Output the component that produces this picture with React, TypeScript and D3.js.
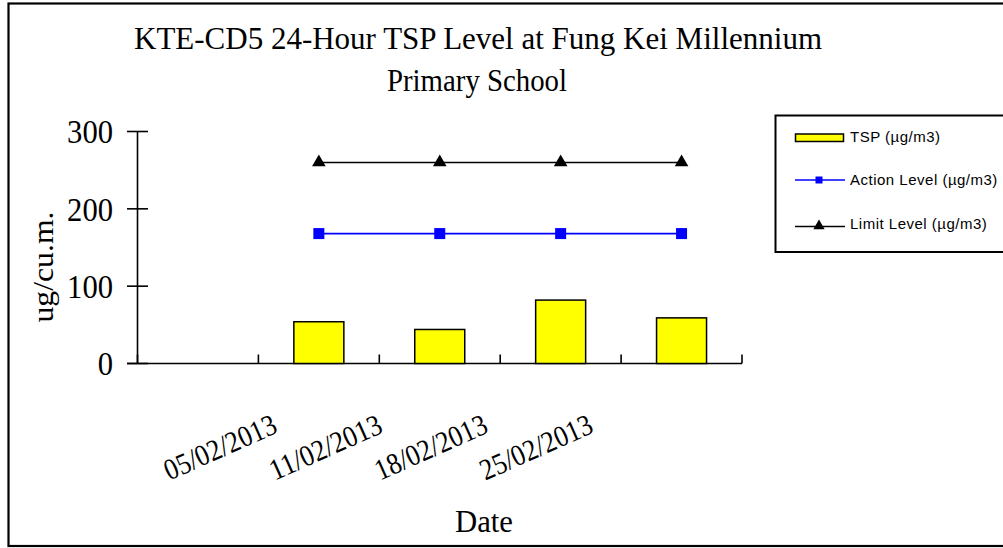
import React from "react";
import * as d3 from "d3";

// ---- data ----
const categories = ["", "05/02/2013", "11/02/2013", "18/02/2013", "25/02/2013"];
const dateLabels = ["05/02/2013", "11/02/2013", "18/02/2013", "25/02/2013"];
const tspValues: (number | null)[] = [null, 54, 44, 82, 59];
const actionLevel: (number | null)[] = [null, 168, 168, 168, 168];
const limitLevel: (number | null)[] = [null, 260, 260, 260, 260];
const yTicks = [0, 100, 200, 300];
const legendLabels = ["TSP (µg/m3)", "Action Level (µg/m3)", "Limit Level (µg/m3)"];
const titleLines = ["KTE-CD5 24-Hour TSP Level at Fung Kei Millennium", "Primary School"];

const W = 1003;
const H = 548;
const plot = { left: 137.5, right: 742, top: 131.5, bottom: 363.5 };
const serif = "'Liberation Serif', 'DejaVu Serif', serif";
const sans = "'Liberation Sans', Arial, sans-serif";

export default function App() {
  const x = d3.scaleBand<string>().domain(categories).range([plot.left, plot.right]);
  const y = d3.scaleLinear().domain([0, 300]).range([plot.bottom, plot.top]);
  const cx = (i: number) => (x(categories[i]) as number) + x.bandwidth() / 2;
  const labelX = d3.scalePoint<string>().domain(dateLabels).range([279, 595]);
  const barW = 50;

  const line = d3
    .line<number | null>()
    .defined((d) => d != null)
    .x((_, i) => cx(i))
    .y((d) => y(d as number));

  const tickXs = [...categories.map((c) => x(c) as number), plot.right];
  const tri = d3.symbol().type(d3.symbolTriangle).size(80);
  const triSmall = d3.symbol().type(d3.symbolTriangle).size(55);

  return (
    <svg width={W} height={H} style={{ position: "absolute", left: 0, top: 0, background: "#fff" }}>
      <rect x={0} y={0} width={W} height={H} fill="#fff" />
      <rect x={8.5} y={3.5} width={1010} height={542.5} fill="none" stroke="#000" strokeWidth={2.2} />

      {/* title */}
      <text x={478} y={49} textAnchor="middle" fontFamily={serif} fontSize={32} textLength={688} lengthAdjust="spacingAndGlyphs">
        {titleLines[0]}
      </text>
      <text x={477} y={91} textAnchor="middle" fontFamily={serif} fontSize={32} textLength={180} lengthAdjust="spacingAndGlyphs">
        {titleLines[1]}
      </text>

      {/* y axis */}
      <line x1={plot.left} x2={plot.left} y1={plot.top} y2={plot.bottom} stroke="#000" strokeWidth={1.6} />
      {yTicks.map((t) => (
        <g key={t}>
          <line x1={127} x2={148} y1={y(t)} y2={y(t)} stroke="#000" strokeWidth={1.6} />
          <text
            x={113}
            y={y(t)}
            dy="0.36em"
            textAnchor="end"
            fontFamily={serif}
            fontSize={33}
            textLength={String(t).length * 15.3}
            lengthAdjust="spacingAndGlyphs"
          >
            {t}
          </text>
        </g>
      ))}
      <text
        transform={`translate(53,267) rotate(-90)`}
        textAnchor="middle"
        fontFamily={serif}
        fontSize={30}
        textLength={111}
        lengthAdjust="spacingAndGlyphs"
      >
        ug/cu.m.
      </text>

      {/* x axis */}
      <line x1={127} x2={plot.right} y1={plot.bottom} y2={plot.bottom} stroke="#000" strokeWidth={1.6} />
      {tickXs.map((tx, i) => (
        <line key={i} x1={tx} x2={tx} y1={plot.bottom} y2={plot.bottom - 9} stroke="#000" strokeWidth={1.6} />
      ))}
      {dateLabels.map((d) => (
        <text
          key={d}
          transform={`translate(${labelX(d)},432) rotate(-24)`}
          textAnchor="end"
          fontFamily={serif}
          fontSize={30}
          textLength={120}
          lengthAdjust="spacingAndGlyphs"
        >
          {d}
        </text>
      ))}
      <text x={484} y={532} textAnchor="middle" fontFamily={serif} fontSize={31} textLength={58} lengthAdjust="spacingAndGlyphs">
        Date
      </text>

      {/* bars */}
      {tspValues.map((v, i) =>
        v == null ? null : (
          <rect
            key={i}
            x={cx(i) - barW / 2}
            y={y(v)}
            width={barW}
            height={y(0) - y(v)}
            fill="#FFFF00"
            stroke="#000"
            strokeWidth={1.5}
          />
        )
      )}

      {/* action level */}
      <path d={line(actionLevel) || ""} fill="none" stroke="#0000FF" strokeWidth={1.6} />
      {actionLevel.map((v, i) =>
        v == null ? null : <rect key={i} x={cx(i) - 5.5} y={y(v) - 5.5} width={11} height={11} fill="#0000FF" />
      )}

      {/* limit level */}
      <path d={line(limitLevel) || ""} fill="none" stroke="#000" strokeWidth={1.6} />
      {limitLevel.map((v, i) =>
        v == null ? null : <path key={i} d={tri() || ""} transform={`translate(${cx(i)},${y(v)})`} fill="#000" />
      )}

      {/* legend */}
      <rect x={775.5} y={115.5} width={300} height={136.5} fill="#fff" stroke="#000" strokeWidth={2} />
      <rect x={795.5} y={134} width={48} height={7.5} fill="#FFFF00" stroke="#000" strokeWidth={1.5} />
      <line x1={795} x2={845} y1={180} y2={180} stroke="#0000FF" strokeWidth={1.6} />
      <rect x={815.5} y={176.5} width={7} height={7} fill="#0000FF" />
      <line x1={795} x2={845} y1={226.5} y2={226.5} stroke="#000" strokeWidth={1.6} />
      <path d={triSmall() || ""} transform="translate(819,226)" fill="#000" />
      {legendLabels.map((l, i) => (
        <text key={l} x={850} y={[142, 185, 229][i]} fontFamily={sans} fontSize={15} letterSpacing={0.5}>
          {l}
        </text>
      ))}
    </svg>
  );
}
